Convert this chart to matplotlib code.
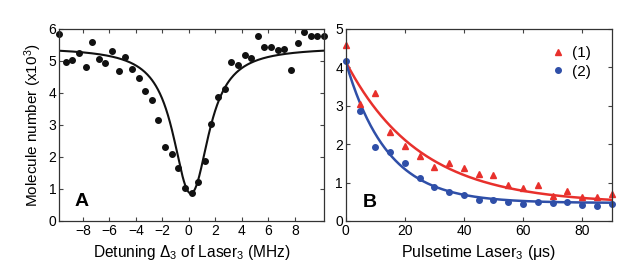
import matplotlib
matplotlib.use('Agg')
import matplotlib.pyplot as plt
import numpy as np

plt.rcParams['font.family'] = ['Liberation Sans', 'DejaVu Sans']
plt.rcParams['mathtext.fontset'] = 'custom'
plt.rcParams['mathtext.rm'] = 'Liberation Sans'
plt.rcParams['mathtext.it'] = 'Liberation Sans:italic'
plt.rcParams['mathtext.bf'] = 'Liberation Sans:bold'

# Panel A: detuning scan
detuning = [-9.8, -9.3, -8.8, -8.3, -7.8, -7.3, -6.8, -6.3, -5.8, -5.3,
            -4.8, -4.3, -3.8, -3.3, -2.8, -2.3, -1.8, -1.3, -0.8, -0.3,
            0.2, 0.7, 1.2, 1.7, 2.2, 2.7, 3.2, 3.7, 4.2, 4.7,
            5.2, 5.7, 6.2, 6.7, 7.2, 7.7, 8.2, 8.7, 9.2, 9.7, 10.2]
molecules_a = [5.84, 4.98, 5.02, 5.24, 4.80, 5.59, 5.05, 4.93, 5.31, 4.70,
               5.11, 4.76, 4.47, 4.06, 3.78, 3.16, 2.32, 2.10, 1.65, 1.02,
               0.86, 1.23, 1.88, 3.02, 3.86, 4.13, 4.96, 4.89, 5.20, 5.10,
               5.77, 5.45, 5.43, 5.34, 5.39, 4.72, 5.57, 5.91, 5.79, 5.79, 5.78]
# absorption-type lorentzian fit (baseline, optical depth, centre, half width)
fit_a = dict(base=5.43, od=1.843, x0=0.15, hw=1.05)

# Panel B: pulse time decay
pulsetime = [0, 5, 10, 15, 20, 25, 30, 35, 40, 45,
             50, 55, 60, 65, 70, 75, 80, 85, 90]
series1 = [4.57, 3.04, 3.32, 2.33, 1.96, 1.68, 1.41, 1.50, 1.37, 1.22,
           1.21, 0.93, 0.85, 0.94, 0.65, 0.79, 0.62, 0.62, 0.70]
series2 = [4.17, 2.86, 1.92, 1.80, 1.50, 1.11, 0.88, 0.76, 0.67, 0.55,
           0.55, 0.50, 0.44, 0.49, 0.46, 0.50, 0.42, 0.39, 0.44]
# exponential fit parameters (offset, amplitude, tau in us)
fit1 = dict(c=0.45, a=3.70, tau=25.0)
fit2 = dict(c=0.47, a=3.68, tau=14.0)

red = '#e8302c'
blue = '#2f4fa8'

fig = plt.figure(figsize=(6.3, 2.76), dpi=100)
ax1 = fig.add_axes([0.0937, 0.1993, 0.4206, 0.6957])
ax2 = fig.add_axes([0.5487, 0.1993, 0.4222, 0.6957])

for ax in (ax1, ax2):
    ax.tick_params(direction='in', top=True, right=True, length=3,
                   width=0.8, labelsize=10, pad=2, color='#444444')
    for s in ax.spines.values():
        s.set_linewidth(0.9)
        s.set_color('#333333')

# panel A
xf = np.linspace(detuning[0], detuning[-1], 400)
lor = 1 / (1 + ((xf - fit_a['x0']) / fit_a['hw'])**2)
yf = fit_a['base'] * np.exp(-fit_a['od'] * lor)
ax1.plot(xf, yf, color='#111111', lw=1.5)
ax1.plot(detuning, molecules_a, 'o', color='#111111', ms=4, clip_on=False)
ax1.set_xlim(detuning[0], detuning[-1])
ax1.set_ylim(0, 6)
ax1.set_xticks([-8, -6, -4, -2, 0, 2, 4, 6, 8])
ax1.set_yticks([0, 1, 2, 3, 4, 5, 6])
ax1.set_xlabel(r'Detuning $\Delta_3$ of Laser$_3$ (MHz)', fontsize=11.2, labelpad=4)
ax1.set_ylabel(r'Molecule number (x10$^3$)', fontsize=11, labelpad=3)
ax1.text(0.085, 0.104, 'A', transform=ax1.transAxes, fontsize=14,
         fontweight='bold', ha='center', va='center')

# panel B
tf = np.linspace(pulsetime[0], pulsetime[-1], 300)
ax2.plot(tf, fit1['c'] + fit1['a'] * np.exp(-tf / fit1['tau']), color=red, lw=1.8)
ax2.plot(tf, fit2['c'] + fit2['a'] * np.exp(-tf / fit2['tau']), color=blue, lw=1.8)
ax2.plot(pulsetime, series1, '^', color=red, ms=4, clip_on=False, label='(1)')
ax2.plot(pulsetime, series2, 'o', color=blue, ms=4, clip_on=False, label='(2)')
ax2.set_xlim(0, 90)
ax2.set_ylim(0, 5)
ax2.set_xticks([0, 20, 40, 60, 80])
ax2.set_yticks([0, 1, 2, 3, 4, 5])
ax2.set_xlabel('Pulsetime Laser$_3$ (μs)', fontsize=11.5, labelpad=4)
ax2.legend(loc='upper right', frameon=False, fontsize=11, handletextpad=0.4,
           handlelength=1.0, borderaxespad=0.6, labelspacing=0.3,
           bbox_to_anchor=(0.98, 0.99))
ax2.text(0.091, 0.096, 'B', transform=ax2.transAxes, fontsize=14,
         fontweight='bold', ha='center', va='center')

fig.savefig('out.png', dpi=100)
